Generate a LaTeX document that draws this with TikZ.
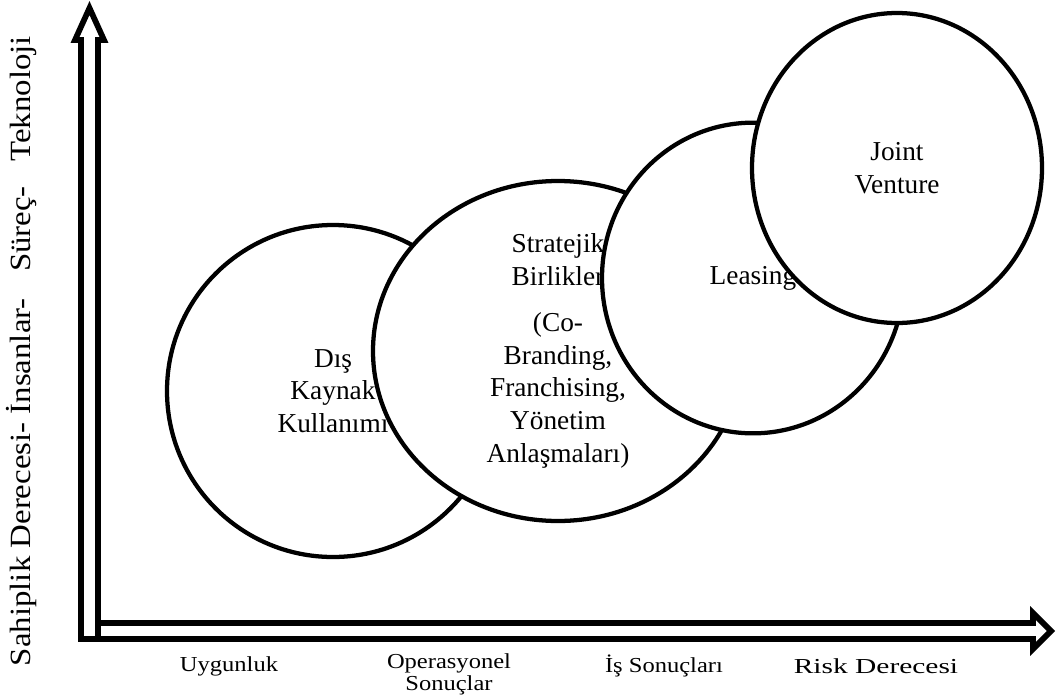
\documentclass[tikz,border=0pt]{standalone}
\usepackage{fontspec}
\setmainfont{Liberation Serif}
\usetikzlibrary{shapes.geometric}
\tikzset{
  bubble/.style={ellipse, draw=black, line width=3.2pt, fill=white, align=center,
    inner sep=0pt, font=\fontsize{20.5}{24.5}\selectfont},
  axisarrow/.style={draw=black, fill=white, line width=4.3pt, line join=miter},
  axislabel/.style={align=center, font=\fontsize{16}{16.5}\selectfont,
    xscale=1.15, transform shape}
}

\begin{document}
\begin{tikzpicture}[x=0.75pt,y=-0.75pt]
\useasboundingbox (0,0) rectangle (1058,697);

% axes
\draw[axisarrow] (81,623) -- (1033,623) -- (1033,613) -- (1051,631)
  -- (1033,649) -- (1033,639) -- (81,639) -- cycle;
\draw[axisarrow] (81,639) -- (81,40) -- (75,40) -- (89.5,8)
  -- (104,40) -- (98,40) -- (98,639) -- cycle;

% circles, each one over the last
\node[bubble, minimum width=249pt, minimum height=249pt] (dis) at (333,391)
  {Dış\\Kaynak\\Kullanımı};
\node[bubble, minimum width=277.5pt, minimum height=255pt] (stratejik) at (558,351)
  {Stratejik\\Birlikler\\[10pt](Co-\\Branding,\\Franchising,\\Yönetim\\Anlaşmaları)};
\node[bubble, minimum width=226.5pt, minimum height=233pt] (leasing) at (753,278)
  {Leasing};
\node[bubble, minimum width=217.5pt, minimum height=232.5pt] (joint) at (897,168)
  {Joint\\Venture};

% axis labels
\node[axislabel] (uygunluk) at (229,666) {Uygunluk};
\node[axislabel] (operasyonel) at (449,674) {Operasyonel\\Sonuçlar};
\node[axislabel] (isSonuc) at (664,666) {İş Sonuçları};
\node[axislabel, xscale=1.2] (risk) at (876,666) {Risk Derecesi};
\node[rotate=90, xscale=1.12, transform shape, font=\fontsize{22}{24}\selectfont]
  (sahiplik) at (22,351)
  {Sahiplik Derecesi- İnsanlar-\hspace{0.8em}Süreç-\hspace{0.75em}Teknoloji};
\end{tikzpicture}
\end{document}
